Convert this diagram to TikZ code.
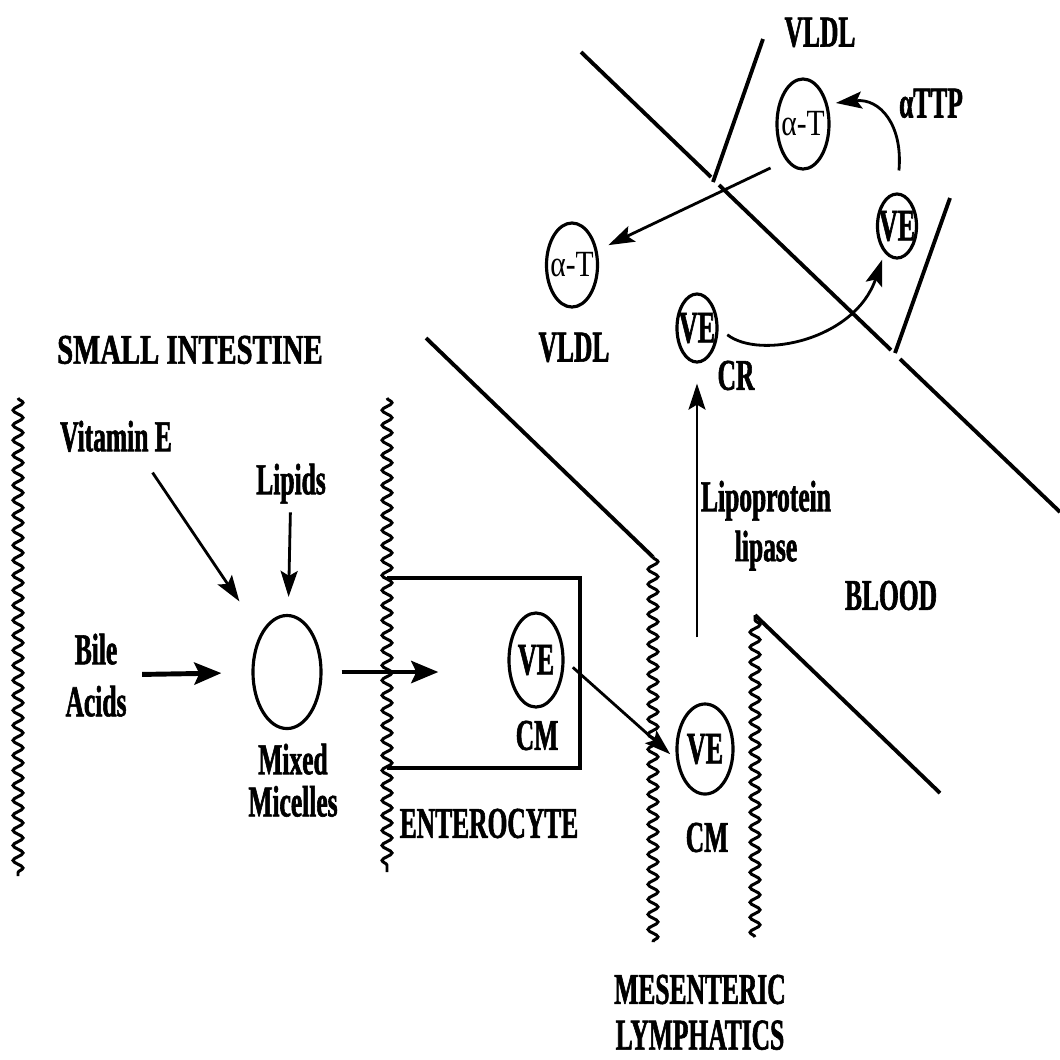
\documentclass[tikz,border=0pt]{standalone}
\usepackage{fontspec}
\setmainfont{Liberation Serif}[FakeStretch=0.58, BoldFeatures={FakeBold=1.3}]
\newfontfamily\greekfont{Liberation Serif}[FakeStretch=0.8]
\newfontfamily\headfont{Liberation Serif}[FakeStretch=0.68, BoldFeatures={FakeBold=1.3}]
\usepackage{tikz}
\usetikzlibrary{arrows.meta,shapes.geometric,decorations.pathmorphing}
\newcommand{\inring}[1]{\makebox[0pt]{#1}}

\begin{document}
\begin{tikzpicture}[x=0.01cm, y=-0.01cm,
    lbl/.style={font=\fontsize{12.5}{#1}\selectfont\bfseries, inner sep=0pt,
                anchor=north, align=center},
    lbl/.default=14,
    ring/.style={draw, ellipse, inner sep=0pt, line width=0.9pt,
                 font=\fontsize{12.8}{14}\selectfont\bfseries},
    alpharing/.style={ring, font=\greekfont\fontsize{10.5}{12}\selectfont},
    wall/.style={line width=1.1pt},
    villi/.style={line width=0.85pt, decorate,
                  decoration={snake, segment length=0.15cm, amplitude=0.05cm}},
    arr/.style={-{Stealth[length=0.26cm, width=0.17cm, inset=0.05cm]}, line width=0.8pt},
    arrthick/.style={-{Stealth[length=0.27cm, width=0.22cm, inset=0.05cm]}, line width=1.4pt}]
\useasboundingbox (0,0) rectangle (1060,1059);

% gut wall, enterocyte and lymphatic
\draw[villi] (18,398) -- (18,876);
\draw[villi] (387,398) -- (387,872);
\draw[wall] (387,578) -- (580,578) -- (580,768) -- (387,768);
\draw[wall] (426,338) -- (653,557);
\draw[villi] (653,557) -- (653,942);
\draw[villi] (755,937) -- (755,615);
\draw[wall] (755,615) -- (940,793);

% liver side
\draw[wall] (581,52) -- (711,177);
\draw[wall] (719,185) -- (891,350);
\draw[wall] (900,359) -- (1060,512);
\draw[wall] (763,39) -- (713,182);
\draw[wall] (950,198) -- (895,353);

% labels
\node[lbl, font=\headfont\bfseries\fontsize{12}{14}\selectfont] (title) at (190,335) {SMALL INTESTINE};
\node[lbl] (vite) at (116,420) {Vitamin E};
\node[lbl] (lipids) at (291,463) {Lipids};
\node[lbl=14.8] (bile) at (96,633) {Bile\\Acids};
\node[lbl=12] (mixed) at (293,743) {Mixed\\Micelles};
\node[lbl] (cm1) at (537,720) {CM};
\node[lbl] (entero) at (489,808) {ENTEROCYTE};
\node[lbl] (cm2) at (707,822) {CM};
\node[lbl=13] (lymph) at (700,974) {MESENTERIC\\LYMPHATICS};
\node[lbl=14.2] (lpl) at (766,480) {Lipoprotein\\lipase};
\node[lbl] (blood) at (891,580) {BLOOD};
\node[lbl] (cr) at (736,360) {CR};
\node[lbl] (vldl1) at (820,17) {VLDL};
\node[lbl] (vldl2) at (574,332) {VLDL};
\node[lbl] (attp) at (931,88) {αTTP};

% particles
\node[ring, minimum width=0.68cm, minimum height=1.13cm] (mm) at (287,672) {};
\node[ring, minimum width=0.54cm, minimum height=0.94cm] (ve1) at (536,660) {\inring{VE}};
\node[ring, minimum width=0.56cm, minimum height=0.9cm] (ve2) at (705,749) {\inring{VE}};
\node[ring, minimum width=0.4cm, minimum height=0.68cm] (ve3) at (697,328) {\inring{VE}};
\node[ring, minimum width=0.39cm, minimum height=0.64cm] (ve4) at (897,226) {\inring{VE}};
\node[alpharing, minimum width=0.52cm, minimum height=0.9cm] (at1) at (803,124) {\inring{α-T}};
\node[alpharing, minimum width=0.51cm, minimum height=0.84cm] (at2) at (572,265) {\inring{α-T}};

% transport
\draw[arrthick, shorten <=0.15cm, shorten >=0.3cm] (bile) -- (mm);
\draw[arr, shorten >=0.38cm] ([shift={(-20,20)}]vite.south east) -- (mm);
\draw[arr, shorten <=0.08cm, shorten >=0.17cm] (lipids) -- (mm);
\draw[arrthick, shorten <=0.19cm, shorten >=0.69cm] (mm) -- (mm -| ve1.west);
\draw[arr, shorten <=0.11cm, shorten >=0.08cm] (ve1.east) -- (ve2.200);
\draw[arr, shorten <=0.65cm, shorten >=0.2cm] (ve3 |- ve2.north) -- (ve3);
\draw[arr, shorten <=0.11cm, shorten >=0.07cm]
    (ve3.east) .. controls (760,360) and (855,340) .. (ve4.245);
\draw[arr, shorten <=0.22cm, shorten >=0.08cm]
    (ve4.north) .. controls (903,125) and (880,98) .. (at1.39);
\draw[arr, shorten <=0.17cm, shorten >=0.12cm] (at1.245) -- (at2.30);
\end{tikzpicture}
\end{document}
